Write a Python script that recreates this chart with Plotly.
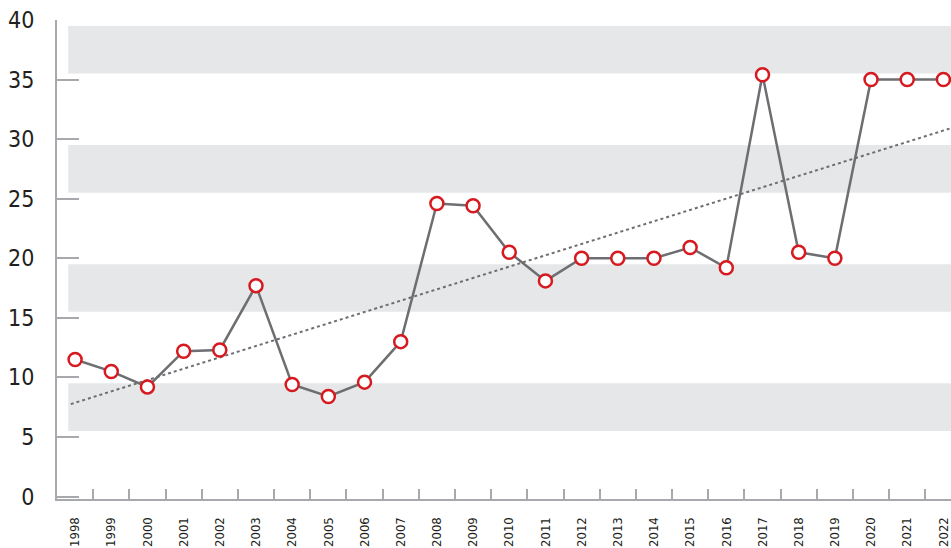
import numpy as np
import plotly.graph_objects as go

years = [str(y) for y in range(1998, 2023)]
values = [11.5, 10.5, 9.2, 12.2, 12.3, 17.7, 9.4, 8.4, 9.6, 13.0, 24.6, 24.4, 20.5,
          18.1, 20.0, 20.0, 20.0, 20.9, 19.2, 35.4, 20.5, 20.0, 35.0, 35.0, 35.0]
y_ticks = [0, 5, 10, 15, 20, 25, 30, 35, 40]
bands = [(5.5, 9.5), (15.5, 19.5), (25.5, 29.5), (35.5, 39.5)]

idx = np.arange(len(years))
slope, intercept = np.polyfit(idx, values, 1)

X_MAX = 24.21
FONT = "DejaVu Sans"
AXIS_COLOR = "#a7a9ac"

fig = go.Figure()

tx = np.array([-0.12, X_MAX])
fig.add_trace(go.Scatter(
    x=tx, y=slope * tx + intercept, mode="lines",
    line=dict(color="#6d6e71", width=2, dash="dot"),
    hoverinfo="skip", showlegend=False))

fig.add_trace(go.Scatter(
    x=idx, y=values, mode="lines+markers",
    line=dict(color="#6d6e71", width=2.5),
    marker=dict(size=13, color="white", line=dict(color="#d71920", width=2.5)),
    showlegend=False, cliponaxis=False))

for lo, hi in bands:
    fig.add_shape(type="rect", xref="x", yref="y", x0=-0.19, x1=X_MAX + 1,
                  y0=lo, y1=hi, fillcolor="#e6e7e8", line=dict(width=0),
                  layer="below")

fig.update_layout(
    width=951, height=548,
    margin=dict(l=57, r=0, t=20, b=49),
    paper_bgcolor="white", plot_bgcolor="white",
    font=dict(family=FONT, color="#231f20"),
    xaxis=dict(
        range=[-0.5, X_MAX], tickmode="array", tickvals=list(idx), ticktext=years,
        ticks="", tickangle=-90,
        tickfont=dict(size=13, family=FONT, color="#231f20"),
        showgrid=False, zeroline=False, showline=True, linecolor=AXIS_COLOR,
        linewidth=2, ticklabelstandoff=11, automargin=False,
        minor=dict(tickmode="array", tickvals=list(idx[:-1] + 0.5), ticks="inside",
                   ticklen=10, tickcolor=AXIS_COLOR, tickwidth=1.5, showgrid=False),
    ),
    yaxis=dict(
        range=[-0.21, 40], tickmode="array", tickvals=y_ticks,
        ticks="inside", ticklen=22, tickcolor=AXIS_COLOR, tickwidth=1.5,
        tickfont=dict(size=23, family=FONT, color="#231f20"),
        showgrid=False, zeroline=False, showline=True, linecolor=AXIS_COLOR,
        linewidth=2, ticklabelstandoff=16, automargin=False,
    ),
)

post = (
    "document.body.style.margin='0';"
    "document.body.style.overflow='hidden';"
    "document.querySelectorAll('.xtick text, .ytick text').forEach(function(t){"
    "t.style.fontStretch='condensed';});"
)

fig.write_html("out.html", post_script=post, config={"displayModeBar": False})
